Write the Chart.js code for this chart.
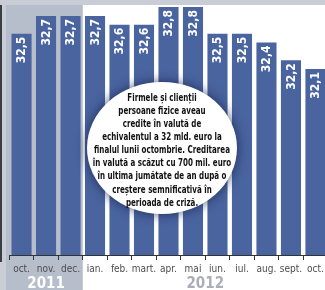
<!DOCTYPE html>
<html>
<head>
<meta charset="utf-8">
<script src="https://cdn.jsdelivr.net/npm/chart.js@4"></script>
<style>
  html, body { margin: 0; padding: 0; overflow: hidden; background: #fff; }
  #wrap { width: 330px; height: 290px; position: relative; }
</style>
</head>
<body>
<div id="wrap"><canvas id="chart"></canvas></div>
<script>
const months = ["oct.", "nov.", "dec.", "ian.", "feb.", "mart.", "apr.", "mai", "iun.", "iul.", "aug.", "sept.", "oct."];
const values = [32.5, 32.7, 32.7, 32.7, 32.6, 32.6, 32.8, 32.8, 32.5, 32.5, 32.4, 32.2, 32.1];
const years = [
  { label: "2011", from: 0, to: 2, color: "#ffffff" },
  { label: "2012", from: 3, to: 12, color: "#a9aeb8" }
];
const note = [
  "Firmele și clienții",
  "persoane fizice aveau",
  "credite în valută de",
  "echivalentul a 32 mld. euro la",
  "finalul lunii octombrie. Creditarea",
  "în valută a scăzut cu 700 mil. euro",
  "în ultima jumătate de an după o",
  "creștere semnificativă în",
  "perioada de criză."
];

const BLUE = "#4a64a0";
const NARROW = "'Liberation Sans Narrow', 'DejaVu Sans Condensed', sans-serif";

// grey panel behind 2011 and the outer frame
const background = {
  id: "background",
  beforeDraw(chart) {
    const { ctx, width, height } = chart;
    const x = chart.scales.x;
    const half = (x.getPixelForValue(1) - x.getPixelForValue(0)) / 2;
    ctx.save();
    ctx.fillStyle = "#ffffff";
    ctx.fillRect(0, 0, width, height);
    ctx.fillStyle = "#c9cdd5";
    ctx.fillRect(0, 0, width, 5);
    ctx.fillRect(0, 0, 6, height);
    ctx.fillStyle = "#b6bdcb";
    ctx.fillRect(6, 5, x.getPixelForValue(2) + half - 6, height - 5);
    ctx.fillStyle = "#3a3d44";
    ctx.fillRect(0, 5, 2, 257);
    ctx.restore();
  }
};

const extras = {
  id: "extras",
  afterDatasetsDraw(chart) {
    const { ctx } = chart;
    const meta = chart.getDatasetMeta(0);
    ctx.save();
    ctx.fillStyle = "#ffffff";
    ctx.font = "bold 12px " + NARROW;
    ctx.textAlign = "right";
    ctx.textBaseline = "middle";
    meta.data.forEach((bar, i) => {
      ctx.save();
      ctx.translate(bar.x + 0.5, bar.y + 3);
      ctx.rotate(-Math.PI / 2);
      ctx.fillText(values[i].toFixed(1).replace(".", ","), 0, 0);
      ctx.restore();
    });
    ctx.restore();
  },
  afterDraw(chart) {
    const { ctx } = chart;
    const x = chart.scales.x;
    ctx.save();
    ctx.font = "bold 15px " + NARROW;
    ctx.textAlign = "center";
    ctx.textBaseline = "middle";
    years.forEach(y => {
      const cx = (x.getPixelForValue(y.from) + x.getPixelForValue(y.to)) / 2;
      ctx.fillStyle = y.color;
      ctx.fillText(y.label, cx, 284);
    });
    ctx.restore();

    // the note bubble
    const cx = 162, cy = 148;
    ctx.save();
    ctx.shadowColor = "rgba(15, 25, 60, 0.75)";
    ctx.shadowBlur = 12;
    ctx.fillStyle = "#ffffff";
    ctx.beginPath();
    ctx.ellipse(cx, cy, 75, 66, 0, 0, Math.PI * 2);
    ctx.fill();
    ctx.restore();

    ctx.save();
    ctx.fillStyle = "#111111";
    ctx.textAlign = "center";
    ctx.textBaseline = "middle";
    ctx.font = "bold 11px " + NARROW;
    note.forEach((line, i) => {
      ctx.save();
      ctx.translate(cx, 98 + i * 13.1);
      ctx.scale(0.72, 1);
      ctx.fillText(line, 0, 0);
      ctx.restore();
    });
    ctx.restore();
  }
};

new Chart(document.getElementById("chart"), {
  type: "bar",
  data: {
    labels: months,
    datasets: [{
      data: values,
      backgroundColor: BLUE,
      barPercentage: 0.82,
      categoryPercentage: 1
    }]
  },
  options: {
    responsive: true,
    maintainAspectRatio: false,
    animation: false,
    layout: { padding: { left: 9.3, right: 2.3, top: 0, bottom: 0 } },
    plugins: { legend: { display: false }, tooltip: { enabled: false } },
    scales: {
      y: { display: false, min: 30, max: 32.88 },
      x: {
        offset: true,
        afterFit: (axis) => { axis.height = 35; },
        grid: { offset: true, drawOnChartArea: false, drawTicks: true, tickLength: 5, color: "#333333" },
        border: { display: true, color: "#333333", width: 1 },
        ticks: { color: "#4d4d4d", font: { size: 10, family: NARROW }, padding: 3, maxRotation: 0, autoSkip: false }
      }
    }
  },
  plugins: [background, extras]
});
</script>
</body>
</html>
